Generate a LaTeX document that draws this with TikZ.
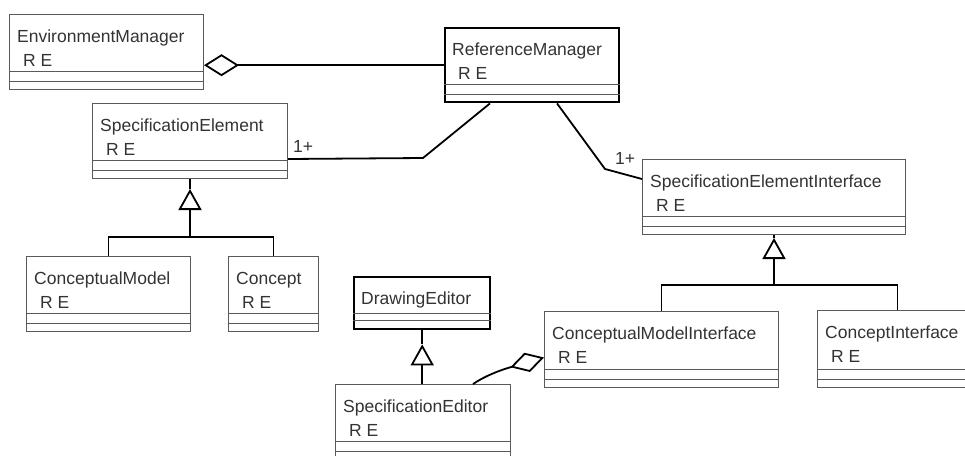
\documentclass[tikz,border=0pt]{standalone}
\usepackage{fontspec}
\setmainfont{Liberation Sans}
\usetikzlibrary{arrows.meta,calc}
\newcommand\umlclass[7]{%
  \node[cls,#7,minimum width=#4pt,minimum height=#5pt] (#1) at (#2,#3) {};
  \node[lbl] (#1-t) at ($(#1.north west)+(8,28)$) {#6};
  \node[lbl] (#1-a) at ($(#1.north west)+(14,52)$) {R E};
  \draw[div] ($(#1.south west)+(0,-19)$) -- ($(#1.south east)+(0,-19)$);
  \draw[div] ($(#1.south west)+(0,-9)$) -- ($(#1.south east)+(0,-9)$);
}
\begin{document}
\begin{tikzpicture}[x=1pt,y=-1pt,
  cls/.style={draw=black!65,line width=1pt,rectangle,inner sep=0pt,anchor=north west},
  clsthick/.style={draw=black,line width=2.4pt},
  lbl/.style={font=\fontsize{17.5}{20}\selectfont,anchor=base west,inner sep=0pt,text=black!80},
  div/.style={draw=black!65,line width=1pt},
  conn/.style={draw=black,line width=1.8pt},
  agg/.style={-{Diamond[open,length=35pt,width=22pt]}},
  tri/.style={-{Triangle[open,length=21pt,width=23pt]}}
]
\useasboundingbox (0,0) rectangle (965,455);
\clip (0,0) rectangle (965,455);

\umlclass{EM}{9}{14}{194}{75}{EnvironmentManager}{}
\umlclass{RM}{444}{27}{174}{74}{ReferenceManager}{clsthick}
\umlclass{SE}{92}{103}{195}{75}{SpecificationElement}{}
\umlclass{CM}{26}{256}{164}{75}{ConceptualModel}{}
\umlclass{CC}{228}{256}{90}{75}{Concept}{}
\umlclass{SEI}{642}{159}{263}{75}{SpecificationElementInterface}{}
\umlclass{CMI}{544}{311}{234}{76}{ConceptualModelInterface}{}
\umlclass{CI}{817}{310}{160}{77}{ConceptInterface}{}
\umlclass{SEd}{335}{384}{175}{75}{SpecificationEditor}{}

\node[cls,clsthick,minimum width=136pt,minimum height=52pt] (DE) at (353,276) {};
\node[lbl] (DE-t) at ($(DE.north west)+(8,28)$) {DrawingEditor};
\draw[div] ($(DE.south west)+(0,-17)$) -- ($(DE.south east)+(0,-17)$);
\draw[div] ($(DE.south west)+(0,-10)$) -- ($(DE.south east)+(0,-10)$);

% multiplicity labels
\node[lbl] (m1) at (293,152) {1+};
\node[lbl] (m2) at (615,164) {1+};

% EnvironmentManager <>-- ReferenceManager
\draw[conn,agg] (RM.west) -- (RM.west -| EM.east);

% SpecificationElement -- ReferenceManager
\draw[conn] ($(SE.south east)+(0,-20)$) -- (423,158) -- ($(RM.south west)+(46,0)$);

% ReferenceManager -- SpecificationElementInterface
\draw[conn] ($(RM.south west)+(113,0)$) -- (605,169) -- ($(SEI.north west)+(0,20)$);

% generalisation to SpecificationElement
\coordinate (jSE) at ($(SE.south)+(0,58)$);
\draw[conn] (CM.north) |- (jSE) -| (CC.north);
\draw[conn,tri,shorten >=10pt] (jSE) -- (SE.south);
\draw[conn] (SE.south) -- ++(0,10);

% generalisation to SpecificationElementInterface
\coordinate (jSEI) at ($(SEI.south)+(0,50)$);
\draw[conn] (CMI.north) |- (jSEI) -| (CI.north);
\draw[conn,tri,shorten >=3pt] (jSEI) -- (SEI.south);
\draw[conn] (SEI.south) -- ++(0,3);

% generalisation to DrawingEditor
\draw[conn,tri,shorten >=14pt] (DE.south |- SEd.north) -- (DE.south);
\draw[conn] (DE.south) -- ++(0,14);

% SpecificationEditor --<> ConceptualModelInterface
\draw[conn,{Diamond[open,length=35pt,width=20pt]}-] ($(CMI.west)+(0,8)$)
  .. controls +(-45,13) and +(12,-8) .. ($(SEd.north)+(50,0)$);
\end{tikzpicture}
\end{document}
